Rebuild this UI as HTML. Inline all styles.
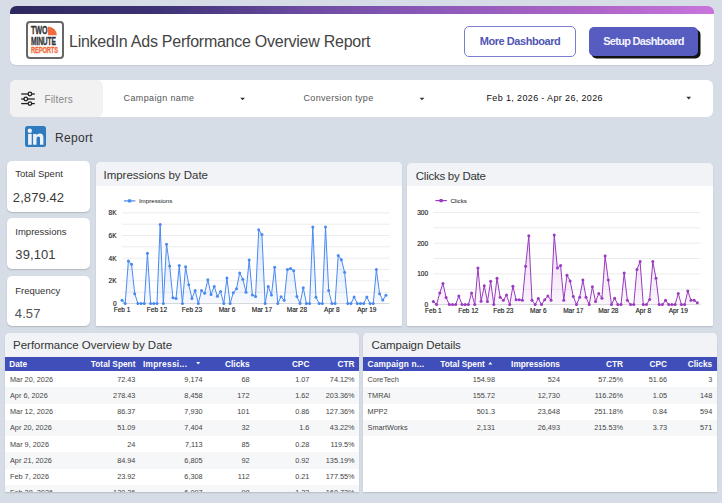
<!DOCTYPE html>
<html><head><meta charset="utf-8">
<style>
*{margin:0;padding:0;box-sizing:border-box}
html,body{width:722px;height:503px;overflow:hidden;background:#d6dde6;font-family:"Liberation Sans",sans-serif;position:relative}
.abs{position:absolute}
.card{position:absolute;background:#fff;border-radius:6px}
.hdr{left:10px;top:6px;width:703.5px;height:59px;overflow:hidden;box-shadow:0 1px 1px rgba(0,0,0,0.08)}
.hdr .bar{position:absolute;left:0;top:0;width:100%;height:7.5px;background:linear-gradient(90deg,#2d295f 0%,#3b3173 20%,#6a4a9f 41%,#8a58b8 59%,#b066c8 84%,#c875db 100%)}
.title{position:absolute;left:69px;top:32px;font-size:16px;color:#444;letter-spacing:-0.25px;white-space:nowrap;line-height:20px}
.btn1{position:absolute;left:464px;top:26px;width:112px;height:30.5px;border:1px solid #7a7fd0;border-radius:5px;background:#fff;color:#4f55b5;font-weight:bold;font-size:11px;text-align:center;line-height:28.5px;letter-spacing:-0.45px}
.btn2{position:absolute;left:589px;top:26.5px;width:109px;height:29.5px;border-radius:5px;background:#575cc0;color:#f4f4ff;font-weight:bold;font-size:11px;text-align:center;line-height:29.5px;box-shadow:2.5px 2.5px 0 #111;letter-spacing:-0.7px}
.filt{left:10px;top:80px;width:703px;height:37px;overflow:hidden}
.filt .fs{position:absolute;left:0;top:0;width:92.6px;height:37px;background:#f2f2f2;border-radius:6px 6px 6px 6px}
.ft{position:absolute;font-size:10px;color:#555;white-space:nowrap;line-height:12px}
.dd{position:absolute;width:0;height:0;border-left:2.5px solid transparent;border-right:2.5px solid transparent;border-top:3px solid #333}
.sc{position:absolute;left:7.3px;width:82.5px;height:51px;background:#fff;border-radius:5px;box-shadow:0 1px 1.5px rgba(0,0,0,0.18)}
.sc .l{position:absolute;left:8px;top:6px;font-size:9.5px;color:#333;white-space:nowrap;line-height:12px}
.sc .v{position:absolute;left:5.5px;top:28px;font-size:13px;color:#3a3a3a;white-space:nowrap;line-height:16px;letter-spacing:0.1px}
.panel{position:absolute;background:#fff;border-radius:5px;overflow:hidden;box-shadow:0 1px 1.5px rgba(0,0,0,0.15)}
.panel .ph{position:absolute;left:0;top:0;width:100%;height:24px;background:#f1f3f6}
.panel .pt{position:absolute;left:7.5px;top:6px;font-size:11.5px;color:#333;white-space:nowrap;line-height:14px;letter-spacing:-0.1px}
svg{position:absolute;left:0;top:0}
.ax{font-family:"Liberation Sans",sans-serif;font-size:6.5px;fill:#1a1a1a;stroke:#1a1a1a;stroke-width:0.15px}
.lg{font-family:"Liberation Sans",sans-serif;font-size:6.2px;fill:#111}
.thead{position:absolute;background:#3f4eb8}
.th{position:absolute;color:#fff;font-weight:bold;font-size:8.3px;white-space:nowrap}
.th.r{text-align:right}
.arr{font-size:6px;font-weight:normal}
.tr{position:absolute}
.td{position:absolute;color:#444;font-size:7.3px;white-space:nowrap;margin-top:0.4px}
.td.r{text-align:right}
</style></head><body>

<div class="card hdr"><div class="bar"></div></div>
<!-- logo -->
<div class="abs" style="left:25.7px;top:21.3px;width:38px;height:37.5px;border:2px solid #666;border-radius:4px;background:#fff"></div>
<div class="abs" style="left:30.8px;top:24.6px;font-weight:bold;font-size:11.4px;line-height:11px;color:#333;-webkit-text-stroke:0.35px #333;transform:scaleX(0.63);transform-origin:0 0;letter-spacing:-0.2px">TWO</div>
<svg class="abs" width="722" height="503" style="pointer-events:none">
<path d="M47.8,35.2 L47.8,26.5 A9,8.7 0 0 1 56.8,35.2 Z" fill="#f26b3a"/>
</svg>
<div class="abs" style="left:30.8px;top:35.8px;font-weight:bold;font-size:11.4px;line-height:11px;color:#333;-webkit-text-stroke:0.35px #333;transform:scaleX(0.585);transform-origin:0 0;letter-spacing:-0.2px">MINUTE</div>
<div class="abs" style="left:30.8px;top:45.8px;font-weight:bold;font-size:9px;line-height:9px;color:#f26b3a;-webkit-text-stroke:0.35px #f26b3a;transform:scaleX(0.64);transform-origin:0 0;letter-spacing:-0.2px">REPORTS</div>

<div class="title">LinkedIn Ads Performance Overview Report</div>
<div class="btn1">More Dashboard</div>
<div class="btn2">Setup Dashboard</div>

<div class="card filt"><div class="fs"></div></div>
<svg class="abs" width="722" height="503">
<g stroke="#222" stroke-width="1.3" fill="#f2f2f2">
<line x1="21.2" y1="94" x2="34.8" y2="94"/>
<line x1="21.2" y1="99" x2="34.8" y2="99"/>
<line x1="21.2" y1="103.6" x2="34.8" y2="103.6"/>
<circle cx="29.9" cy="94" r="1.8"/>
<circle cx="25.8" cy="99" r="1.8"/>
<circle cx="29.9" cy="103.6" r="1.8"/>
</g>
</svg>
<div class="ft" style="left:44.4px;top:94px;color:#888;letter-spacing:0.2px">Filters</div>
<div class="ft" style="left:123.5px;top:91.5px;font-size:9px;letter-spacing:0.38px">Campaign name</div>
<svg class="abs" width="722" height="503"><path d="M240.2,97.7 L245,97.7 L242.6,100.3 Z M419.6,97.8 L424.4,97.8 L422,100.3 Z M686.3,96.8 L691.1,96.8 L688.7,99.4 Z" fill="#333"/></svg>
<div class="ft" style="left:303.5px;top:91.5px;font-size:9px;letter-spacing:0.33px">Conversion type</div>

<div class="ft" style="left:486.5px;top:91.5px;font-size:9px;color:#111;letter-spacing:0.36px">Feb 1, 2026 - Apr 26, 2026</div>


<!-- linkedin -->
<div class="abs" style="left:25px;top:126px;width:21px;height:21px;background:#2f7bbf;border-radius:2.5px"></div>
<svg class="abs" width="722" height="503"><g fill="#eef1f5"><circle cx="29.8" cy="130.8" r="2.2"/><rect x="28.1" y="133.9" width="3.6" height="10.9"/><path d="M33.1,133.9 h3.4 v1.5 c0.7,-1.1 1.9,-1.8 3.4,-1.8 c2.4,0 3.5,1.6 3.5,4.1 v7.1 h-3.4 v-6.4 c0,-1.2 -0.5,-1.9 -1.5,-1.9 c-1.2,0 -2,0.8 -2,2.2 v6.1 h-3.4 z"/></g></svg>
<div class="abs" style="left:55px;top:131px;font-size:12px;color:#333;line-height:14px;letter-spacing:0.3px">Report</div>

<!-- scorecards -->
<div class="sc" style="top:161px"><div class="l" style="top:7px">Total Spent</div><div class="v" style="top:29px">2,879.42</div></div>
<div class="sc" style="top:218px"><div class="l" style="top:8px">Impressions</div><div class="v" style="left:8px;top:29px">39,101</div></div>
<div class="sc" style="top:275.5px;height:50.7px"><div class="l" style="top:9px">Frequency</div><div class="v" style="left:7.5px;top:30.3px;color:#555">4.57</div></div>

<!-- chart panels -->
<div class="panel" style="left:96px;top:162px;width:306.2px;height:163.5px;border-radius:5px 5px 1px 1px"><div class="ph"></div><div class="pt" style="letter-spacing:-0.02px">Impressions by Date</div></div>
<div class="panel" style="left:407px;top:163px;width:306px;height:162.5px;border-radius:5px 5px 1px 1px"><div class="ph" style="height:23px"></div><div class="pt" style="left:8.8px;top:6px;letter-spacing:-0.26px">Clicks by Date</div></div>
<svg class="abs" width="722" height="503">
<line x1="122.2" y1="303.50" x2="389.6" y2="303.50" stroke="#d9d9d9" stroke-width="1"/>
<line x1="122.2" y1="292.17" x2="389.6" y2="292.17" stroke="#ececec" stroke-width="1"/>
<line x1="122.2" y1="280.84" x2="389.6" y2="280.84" stroke="#ececec" stroke-width="1"/>
<line x1="122.2" y1="269.51" x2="389.6" y2="269.51" stroke="#ececec" stroke-width="1"/>
<line x1="122.2" y1="258.18" x2="389.6" y2="258.18" stroke="#ececec" stroke-width="1"/>
<line x1="122.2" y1="246.85" x2="389.6" y2="246.85" stroke="#ececec" stroke-width="1"/>
<line x1="122.2" y1="235.52" x2="389.6" y2="235.52" stroke="#ececec" stroke-width="1"/>
<line x1="122.2" y1="224.19" x2="389.6" y2="224.19" stroke="#ececec" stroke-width="1"/>
<line x1="122.2" y1="212.86" x2="389.6" y2="212.86" stroke="#ececec" stroke-width="1"/>
<text x="116.5" y="305.90" text-anchor="end" class="ax">0</text>
<text x="116.5" y="283.24" text-anchor="end" class="ax">2K</text>
<text x="116.5" y="260.58" text-anchor="end" class="ax">4K</text>
<text x="116.5" y="237.92" text-anchor="end" class="ax">6K</text>
<text x="116.5" y="215.26" text-anchor="end" class="ax">8K</text>
<defs><linearGradient id="g4a8af0" gradientUnits="userSpaceOnUse" x1="0" y1="212" x2="0" y2="303.5"><stop offset="0" stop-color="#4a8af0" stop-opacity="0.22"/><stop offset="1" stop-color="#4a8af0" stop-opacity="0.05"/></linearGradient></defs>
<path d="M122.00,300.33 L125.18,303.50 L128.36,261.01 L131.54,264.18 L134.72,293.64 L137.90,303.50 L141.08,303.50 L144.26,303.50 L147.44,253.19 L150.62,303.50 L153.80,303.50 L156.98,303.50 L160.16,224.53 L163.34,303.50 L166.52,244.24 L169.70,266.11 L172.88,297.83 L176.06,298.40 L179.24,265.54 L182.42,303.50 L185.60,266.68 L188.78,284.81 L191.96,298.40 L195.14,290.47 L198.32,303.50 L201.50,290.47 L204.68,293.30 L207.86,279.71 L211.04,294.44 L214.22,286.50 L217.40,296.14 L220.58,291.60 L223.76,303.50 L226.94,278.01 L230.12,303.50 L233.30,292.74 L236.48,288.77 L239.66,272.91 L242.84,279.14 L246.02,292.17 L249.20,259.88 L252.38,295.00 L255.56,296.48 L258.74,229.86 L261.92,234.39 L265.10,303.50 L268.28,286.50 L271.46,295.00 L274.64,267.24 L277.82,303.50 L281.00,296.70 L284.18,300.33 L287.36,269.51 L290.54,268.38 L293.72,270.64 L296.90,296.48 L300.08,303.50 L303.26,287.64 L306.44,303.50 L309.62,303.50 L312.80,227.02 L315.98,297.27 L319.16,303.50 L322.34,303.50 L325.52,227.02 L328.70,290.47 L331.88,303.50 L335.06,303.50 L338.24,255.46 L341.42,259.65 L344.60,272.23 L347.78,303.50 L350.96,303.50 L354.14,296.93 L357.32,303.50 L360.50,303.50 L363.68,303.50 L366.86,296.93 L370.04,303.50 L373.22,303.50 L376.40,269.51 L379.58,293.76 L382.76,300.10 L385.94,295.34 L385.94,303.5 L122.00,303.5 Z" fill="url(#g4a8af0)"/>
<path d="M122.00,300.33 L125.18,303.50 L128.36,261.01 L131.54,264.18 L134.72,293.64 L137.90,303.50 L141.08,303.50 L144.26,303.50 L147.44,253.19 L150.62,303.50 L153.80,303.50 L156.98,303.50 L160.16,224.53 L163.34,303.50 L166.52,244.24 L169.70,266.11 L172.88,297.83 L176.06,298.40 L179.24,265.54 L182.42,303.50 L185.60,266.68 L188.78,284.81 L191.96,298.40 L195.14,290.47 L198.32,303.50 L201.50,290.47 L204.68,293.30 L207.86,279.71 L211.04,294.44 L214.22,286.50 L217.40,296.14 L220.58,291.60 L223.76,303.50 L226.94,278.01 L230.12,303.50 L233.30,292.74 L236.48,288.77 L239.66,272.91 L242.84,279.14 L246.02,292.17 L249.20,259.88 L252.38,295.00 L255.56,296.48 L258.74,229.86 L261.92,234.39 L265.10,303.50 L268.28,286.50 L271.46,295.00 L274.64,267.24 L277.82,303.50 L281.00,296.70 L284.18,300.33 L287.36,269.51 L290.54,268.38 L293.72,270.64 L296.90,296.48 L300.08,303.50 L303.26,287.64 L306.44,303.50 L309.62,303.50 L312.80,227.02 L315.98,297.27 L319.16,303.50 L322.34,303.50 L325.52,227.02 L328.70,290.47 L331.88,303.50 L335.06,303.50 L338.24,255.46 L341.42,259.65 L344.60,272.23 L347.78,303.50 L350.96,303.50 L354.14,296.93 L357.32,303.50 L360.50,303.50 L363.68,303.50 L366.86,296.93 L370.04,303.50 L373.22,303.50 L376.40,269.51 L379.58,293.76 L382.76,300.10 L385.94,295.34" fill="none" stroke="#4a8af0" stroke-width="1.0" stroke-linejoin="round"/>
<circle cx="122.00" cy="300.33" r="1.5" fill="#4a8af0"/>
<circle cx="125.18" cy="303.50" r="1.5" fill="#4a8af0"/>
<circle cx="128.36" cy="261.01" r="1.5" fill="#4a8af0"/>
<circle cx="131.54" cy="264.18" r="1.5" fill="#4a8af0"/>
<circle cx="134.72" cy="293.64" r="1.5" fill="#4a8af0"/>
<circle cx="137.90" cy="303.50" r="1.5" fill="#4a8af0"/>
<circle cx="141.08" cy="303.50" r="1.5" fill="#4a8af0"/>
<circle cx="144.26" cy="303.50" r="1.5" fill="#4a8af0"/>
<circle cx="147.44" cy="253.19" r="1.5" fill="#4a8af0"/>
<circle cx="150.62" cy="303.50" r="1.5" fill="#4a8af0"/>
<circle cx="153.80" cy="303.50" r="1.5" fill="#4a8af0"/>
<circle cx="156.98" cy="303.50" r="1.5" fill="#4a8af0"/>
<circle cx="160.16" cy="224.53" r="1.5" fill="#4a8af0"/>
<circle cx="163.34" cy="303.50" r="1.5" fill="#4a8af0"/>
<circle cx="166.52" cy="244.24" r="1.5" fill="#4a8af0"/>
<circle cx="169.70" cy="266.11" r="1.5" fill="#4a8af0"/>
<circle cx="172.88" cy="297.83" r="1.5" fill="#4a8af0"/>
<circle cx="176.06" cy="298.40" r="1.5" fill="#4a8af0"/>
<circle cx="179.24" cy="265.54" r="1.5" fill="#4a8af0"/>
<circle cx="182.42" cy="303.50" r="1.5" fill="#4a8af0"/>
<circle cx="185.60" cy="266.68" r="1.5" fill="#4a8af0"/>
<circle cx="188.78" cy="284.81" r="1.5" fill="#4a8af0"/>
<circle cx="191.96" cy="298.40" r="1.5" fill="#4a8af0"/>
<circle cx="195.14" cy="290.47" r="1.5" fill="#4a8af0"/>
<circle cx="198.32" cy="303.50" r="1.5" fill="#4a8af0"/>
<circle cx="201.50" cy="290.47" r="1.5" fill="#4a8af0"/>
<circle cx="204.68" cy="293.30" r="1.5" fill="#4a8af0"/>
<circle cx="207.86" cy="279.71" r="1.5" fill="#4a8af0"/>
<circle cx="211.04" cy="294.44" r="1.5" fill="#4a8af0"/>
<circle cx="214.22" cy="286.50" r="1.5" fill="#4a8af0"/>
<circle cx="217.40" cy="296.14" r="1.5" fill="#4a8af0"/>
<circle cx="220.58" cy="291.60" r="1.5" fill="#4a8af0"/>
<circle cx="223.76" cy="303.50" r="1.5" fill="#4a8af0"/>
<circle cx="226.94" cy="278.01" r="1.5" fill="#4a8af0"/>
<circle cx="230.12" cy="303.50" r="1.5" fill="#4a8af0"/>
<circle cx="233.30" cy="292.74" r="1.5" fill="#4a8af0"/>
<circle cx="236.48" cy="288.77" r="1.5" fill="#4a8af0"/>
<circle cx="239.66" cy="272.91" r="1.5" fill="#4a8af0"/>
<circle cx="242.84" cy="279.14" r="1.5" fill="#4a8af0"/>
<circle cx="246.02" cy="292.17" r="1.5" fill="#4a8af0"/>
<circle cx="249.20" cy="259.88" r="1.5" fill="#4a8af0"/>
<circle cx="252.38" cy="295.00" r="1.5" fill="#4a8af0"/>
<circle cx="255.56" cy="296.48" r="1.5" fill="#4a8af0"/>
<circle cx="258.74" cy="229.86" r="1.5" fill="#4a8af0"/>
<circle cx="261.92" cy="234.39" r="1.5" fill="#4a8af0"/>
<circle cx="265.10" cy="303.50" r="1.5" fill="#4a8af0"/>
<circle cx="268.28" cy="286.50" r="1.5" fill="#4a8af0"/>
<circle cx="271.46" cy="295.00" r="1.5" fill="#4a8af0"/>
<circle cx="274.64" cy="267.24" r="1.5" fill="#4a8af0"/>
<circle cx="277.82" cy="303.50" r="1.5" fill="#4a8af0"/>
<circle cx="281.00" cy="296.70" r="1.5" fill="#4a8af0"/>
<circle cx="284.18" cy="300.33" r="1.5" fill="#4a8af0"/>
<circle cx="287.36" cy="269.51" r="1.5" fill="#4a8af0"/>
<circle cx="290.54" cy="268.38" r="1.5" fill="#4a8af0"/>
<circle cx="293.72" cy="270.64" r="1.5" fill="#4a8af0"/>
<circle cx="296.90" cy="296.48" r="1.5" fill="#4a8af0"/>
<circle cx="300.08" cy="303.50" r="1.5" fill="#4a8af0"/>
<circle cx="303.26" cy="287.64" r="1.5" fill="#4a8af0"/>
<circle cx="306.44" cy="303.50" r="1.5" fill="#4a8af0"/>
<circle cx="309.62" cy="303.50" r="1.5" fill="#4a8af0"/>
<circle cx="312.80" cy="227.02" r="1.5" fill="#4a8af0"/>
<circle cx="315.98" cy="297.27" r="1.5" fill="#4a8af0"/>
<circle cx="319.16" cy="303.50" r="1.5" fill="#4a8af0"/>
<circle cx="322.34" cy="303.50" r="1.5" fill="#4a8af0"/>
<circle cx="325.52" cy="227.02" r="1.5" fill="#4a8af0"/>
<circle cx="328.70" cy="290.47" r="1.5" fill="#4a8af0"/>
<circle cx="331.88" cy="303.50" r="1.5" fill="#4a8af0"/>
<circle cx="335.06" cy="303.50" r="1.5" fill="#4a8af0"/>
<circle cx="338.24" cy="255.46" r="1.5" fill="#4a8af0"/>
<circle cx="341.42" cy="259.65" r="1.5" fill="#4a8af0"/>
<circle cx="344.60" cy="272.23" r="1.5" fill="#4a8af0"/>
<circle cx="347.78" cy="303.50" r="1.5" fill="#4a8af0"/>
<circle cx="350.96" cy="303.50" r="1.5" fill="#4a8af0"/>
<circle cx="354.14" cy="296.93" r="1.5" fill="#4a8af0"/>
<circle cx="357.32" cy="303.50" r="1.5" fill="#4a8af0"/>
<circle cx="360.50" cy="303.50" r="1.5" fill="#4a8af0"/>
<circle cx="363.68" cy="303.50" r="1.5" fill="#4a8af0"/>
<circle cx="366.86" cy="296.93" r="1.5" fill="#4a8af0"/>
<circle cx="370.04" cy="303.50" r="1.5" fill="#4a8af0"/>
<circle cx="373.22" cy="303.50" r="1.5" fill="#4a8af0"/>
<circle cx="376.40" cy="269.51" r="1.5" fill="#4a8af0"/>
<circle cx="379.58" cy="293.76" r="1.5" fill="#4a8af0"/>
<circle cx="382.76" cy="300.10" r="1.5" fill="#4a8af0"/>
<circle cx="385.94" cy="295.34" r="1.5" fill="#4a8af0"/>
<text x="122.00" y="312.3" text-anchor="middle" class="ax">Feb 1</text>
<text x="156.98" y="312.3" text-anchor="middle" class="ax">Feb 12</text>
<text x="191.96" y="312.3" text-anchor="middle" class="ax">Feb 23</text>
<text x="226.94" y="312.3" text-anchor="middle" class="ax">Mar 6</text>
<text x="261.92" y="312.3" text-anchor="middle" class="ax">Mar 17</text>
<text x="296.90" y="312.3" text-anchor="middle" class="ax">Mar 28</text>
<text x="331.88" y="312.3" text-anchor="middle" class="ax">Apr 8</text>
<text x="366.86" y="312.3" text-anchor="middle" class="ax">Apr 19</text>
<line x1="123.9" y1="200.9" x2="135.4" y2="200.9" stroke="#4a8af0" stroke-width="1.2"/>
<rect x="127.9" y="199.20000000000002" width="3.4" height="3.4" rx="0.8" fill="#4a8af0"/>
<text x="138.9" y="203.20000000000002" class="lg">Impressions</text>
<line x1="433.6" y1="304.60" x2="700.6" y2="304.60" stroke="#d9d9d9" stroke-width="1"/>
<line x1="433.6" y1="289.25" x2="700.6" y2="289.25" stroke="#ececec" stroke-width="1"/>
<line x1="433.6" y1="273.90" x2="700.6" y2="273.90" stroke="#ececec" stroke-width="1"/>
<line x1="433.6" y1="258.55" x2="700.6" y2="258.55" stroke="#ececec" stroke-width="1"/>
<line x1="433.6" y1="243.20" x2="700.6" y2="243.20" stroke="#ececec" stroke-width="1"/>
<line x1="433.6" y1="227.85" x2="700.6" y2="227.85" stroke="#ececec" stroke-width="1"/>
<line x1="433.6" y1="212.50" x2="700.6" y2="212.50" stroke="#ececec" stroke-width="1"/>
<text x="428.1" y="307.00" text-anchor="end" class="ax">0</text>
<text x="428.1" y="276.30" text-anchor="end" class="ax">100</text>
<text x="428.1" y="245.60" text-anchor="end" class="ax">200</text>
<text x="428.1" y="214.90" text-anchor="end" class="ax">300</text>
<defs><linearGradient id="g9a3abf" gradientUnits="userSpaceOnUse" x1="0" y1="212" x2="0" y2="304.6"><stop offset="0" stop-color="#9a3abf" stop-opacity="0.22"/><stop offset="1" stop-color="#9a3abf" stop-opacity="0.05"/></linearGradient></defs>
<path d="M433.40,301.53 L436.58,304.60 L439.76,292.93 L442.94,283.42 L446.12,297.54 L449.30,304.60 L452.48,304.60 L455.66,304.60 L458.84,296.00 L462.02,304.60 L465.20,304.60 L468.38,304.60 L471.56,292.93 L474.74,304.60 L477.92,268.07 L481.10,301.22 L484.28,285.87 L487.46,301.53 L490.64,281.27 L493.82,304.60 L497.00,278.20 L500.18,297.23 L503.36,300.30 L506.54,295.08 L509.72,304.60 L512.90,286.18 L516.08,299.69 L519.26,299.69 L522.44,300.30 L525.62,266.23 L528.80,235.83 L531.98,300.30 L535.16,304.60 L538.34,298.46 L541.52,304.60 L544.70,299.69 L547.88,296.00 L551.06,300.30 L554.24,234.91 L557.42,268.07 L560.60,265.61 L563.78,300.30 L566.96,275.13 L570.14,280.96 L573.32,296.62 L576.50,304.60 L579.68,297.23 L582.86,280.04 L586.04,297.23 L589.22,304.60 L592.40,286.79 L595.58,301.53 L598.76,293.55 L601.94,298.15 L605.12,256.09 L608.30,280.04 L611.48,304.60 L614.66,298.15 L617.84,304.60 L621.02,304.60 L624.20,272.98 L627.38,300.30 L630.56,304.60 L633.74,304.60 L636.92,269.60 L640.10,261.62 L643.28,304.60 L646.46,304.60 L649.64,299.38 L652.82,261.62 L656.00,278.20 L659.18,304.60 L662.36,304.60 L665.54,300.30 L668.72,304.60 L671.90,304.60 L675.08,304.60 L678.26,293.55 L681.44,304.60 L684.62,304.60 L687.80,291.09 L690.98,300.30 L694.16,300.30 L697.34,302.76 L697.34,304.6 L433.40,304.6 Z" fill="url(#g9a3abf)"/>
<path d="M433.40,301.53 L436.58,304.60 L439.76,292.93 L442.94,283.42 L446.12,297.54 L449.30,304.60 L452.48,304.60 L455.66,304.60 L458.84,296.00 L462.02,304.60 L465.20,304.60 L468.38,304.60 L471.56,292.93 L474.74,304.60 L477.92,268.07 L481.10,301.22 L484.28,285.87 L487.46,301.53 L490.64,281.27 L493.82,304.60 L497.00,278.20 L500.18,297.23 L503.36,300.30 L506.54,295.08 L509.72,304.60 L512.90,286.18 L516.08,299.69 L519.26,299.69 L522.44,300.30 L525.62,266.23 L528.80,235.83 L531.98,300.30 L535.16,304.60 L538.34,298.46 L541.52,304.60 L544.70,299.69 L547.88,296.00 L551.06,300.30 L554.24,234.91 L557.42,268.07 L560.60,265.61 L563.78,300.30 L566.96,275.13 L570.14,280.96 L573.32,296.62 L576.50,304.60 L579.68,297.23 L582.86,280.04 L586.04,297.23 L589.22,304.60 L592.40,286.79 L595.58,301.53 L598.76,293.55 L601.94,298.15 L605.12,256.09 L608.30,280.04 L611.48,304.60 L614.66,298.15 L617.84,304.60 L621.02,304.60 L624.20,272.98 L627.38,300.30 L630.56,304.60 L633.74,304.60 L636.92,269.60 L640.10,261.62 L643.28,304.60 L646.46,304.60 L649.64,299.38 L652.82,261.62 L656.00,278.20 L659.18,304.60 L662.36,304.60 L665.54,300.30 L668.72,304.60 L671.90,304.60 L675.08,304.60 L678.26,293.55 L681.44,304.60 L684.62,304.60 L687.80,291.09 L690.98,300.30 L694.16,300.30 L697.34,302.76" fill="none" stroke="#9a3abf" stroke-width="1.0" stroke-linejoin="round"/>
<circle cx="433.40" cy="301.53" r="1.5" fill="#9a3abf"/>
<circle cx="436.58" cy="304.60" r="1.5" fill="#9a3abf"/>
<circle cx="439.76" cy="292.93" r="1.5" fill="#9a3abf"/>
<circle cx="442.94" cy="283.42" r="1.5" fill="#9a3abf"/>
<circle cx="446.12" cy="297.54" r="1.5" fill="#9a3abf"/>
<circle cx="449.30" cy="304.60" r="1.5" fill="#9a3abf"/>
<circle cx="452.48" cy="304.60" r="1.5" fill="#9a3abf"/>
<circle cx="455.66" cy="304.60" r="1.5" fill="#9a3abf"/>
<circle cx="458.84" cy="296.00" r="1.5" fill="#9a3abf"/>
<circle cx="462.02" cy="304.60" r="1.5" fill="#9a3abf"/>
<circle cx="465.20" cy="304.60" r="1.5" fill="#9a3abf"/>
<circle cx="468.38" cy="304.60" r="1.5" fill="#9a3abf"/>
<circle cx="471.56" cy="292.93" r="1.5" fill="#9a3abf"/>
<circle cx="474.74" cy="304.60" r="1.5" fill="#9a3abf"/>
<circle cx="477.92" cy="268.07" r="1.5" fill="#9a3abf"/>
<circle cx="481.10" cy="301.22" r="1.5" fill="#9a3abf"/>
<circle cx="484.28" cy="285.87" r="1.5" fill="#9a3abf"/>
<circle cx="487.46" cy="301.53" r="1.5" fill="#9a3abf"/>
<circle cx="490.64" cy="281.27" r="1.5" fill="#9a3abf"/>
<circle cx="493.82" cy="304.60" r="1.5" fill="#9a3abf"/>
<circle cx="497.00" cy="278.20" r="1.5" fill="#9a3abf"/>
<circle cx="500.18" cy="297.23" r="1.5" fill="#9a3abf"/>
<circle cx="503.36" cy="300.30" r="1.5" fill="#9a3abf"/>
<circle cx="506.54" cy="295.08" r="1.5" fill="#9a3abf"/>
<circle cx="509.72" cy="304.60" r="1.5" fill="#9a3abf"/>
<circle cx="512.90" cy="286.18" r="1.5" fill="#9a3abf"/>
<circle cx="516.08" cy="299.69" r="1.5" fill="#9a3abf"/>
<circle cx="519.26" cy="299.69" r="1.5" fill="#9a3abf"/>
<circle cx="522.44" cy="300.30" r="1.5" fill="#9a3abf"/>
<circle cx="525.62" cy="266.23" r="1.5" fill="#9a3abf"/>
<circle cx="528.80" cy="235.83" r="1.5" fill="#9a3abf"/>
<circle cx="531.98" cy="300.30" r="1.5" fill="#9a3abf"/>
<circle cx="535.16" cy="304.60" r="1.5" fill="#9a3abf"/>
<circle cx="538.34" cy="298.46" r="1.5" fill="#9a3abf"/>
<circle cx="541.52" cy="304.60" r="1.5" fill="#9a3abf"/>
<circle cx="544.70" cy="299.69" r="1.5" fill="#9a3abf"/>
<circle cx="547.88" cy="296.00" r="1.5" fill="#9a3abf"/>
<circle cx="551.06" cy="300.30" r="1.5" fill="#9a3abf"/>
<circle cx="554.24" cy="234.91" r="1.5" fill="#9a3abf"/>
<circle cx="557.42" cy="268.07" r="1.5" fill="#9a3abf"/>
<circle cx="560.60" cy="265.61" r="1.5" fill="#9a3abf"/>
<circle cx="563.78" cy="300.30" r="1.5" fill="#9a3abf"/>
<circle cx="566.96" cy="275.13" r="1.5" fill="#9a3abf"/>
<circle cx="570.14" cy="280.96" r="1.5" fill="#9a3abf"/>
<circle cx="573.32" cy="296.62" r="1.5" fill="#9a3abf"/>
<circle cx="576.50" cy="304.60" r="1.5" fill="#9a3abf"/>
<circle cx="579.68" cy="297.23" r="1.5" fill="#9a3abf"/>
<circle cx="582.86" cy="280.04" r="1.5" fill="#9a3abf"/>
<circle cx="586.04" cy="297.23" r="1.5" fill="#9a3abf"/>
<circle cx="589.22" cy="304.60" r="1.5" fill="#9a3abf"/>
<circle cx="592.40" cy="286.79" r="1.5" fill="#9a3abf"/>
<circle cx="595.58" cy="301.53" r="1.5" fill="#9a3abf"/>
<circle cx="598.76" cy="293.55" r="1.5" fill="#9a3abf"/>
<circle cx="601.94" cy="298.15" r="1.5" fill="#9a3abf"/>
<circle cx="605.12" cy="256.09" r="1.5" fill="#9a3abf"/>
<circle cx="608.30" cy="280.04" r="1.5" fill="#9a3abf"/>
<circle cx="611.48" cy="304.60" r="1.5" fill="#9a3abf"/>
<circle cx="614.66" cy="298.15" r="1.5" fill="#9a3abf"/>
<circle cx="617.84" cy="304.60" r="1.5" fill="#9a3abf"/>
<circle cx="621.02" cy="304.60" r="1.5" fill="#9a3abf"/>
<circle cx="624.20" cy="272.98" r="1.5" fill="#9a3abf"/>
<circle cx="627.38" cy="300.30" r="1.5" fill="#9a3abf"/>
<circle cx="630.56" cy="304.60" r="1.5" fill="#9a3abf"/>
<circle cx="633.74" cy="304.60" r="1.5" fill="#9a3abf"/>
<circle cx="636.92" cy="269.60" r="1.5" fill="#9a3abf"/>
<circle cx="640.10" cy="261.62" r="1.5" fill="#9a3abf"/>
<circle cx="643.28" cy="304.60" r="1.5" fill="#9a3abf"/>
<circle cx="646.46" cy="304.60" r="1.5" fill="#9a3abf"/>
<circle cx="649.64" cy="299.38" r="1.5" fill="#9a3abf"/>
<circle cx="652.82" cy="261.62" r="1.5" fill="#9a3abf"/>
<circle cx="656.00" cy="278.20" r="1.5" fill="#9a3abf"/>
<circle cx="659.18" cy="304.60" r="1.5" fill="#9a3abf"/>
<circle cx="662.36" cy="304.60" r="1.5" fill="#9a3abf"/>
<circle cx="665.54" cy="300.30" r="1.5" fill="#9a3abf"/>
<circle cx="668.72" cy="304.60" r="1.5" fill="#9a3abf"/>
<circle cx="671.90" cy="304.60" r="1.5" fill="#9a3abf"/>
<circle cx="675.08" cy="304.60" r="1.5" fill="#9a3abf"/>
<circle cx="678.26" cy="293.55" r="1.5" fill="#9a3abf"/>
<circle cx="681.44" cy="304.60" r="1.5" fill="#9a3abf"/>
<circle cx="684.62" cy="304.60" r="1.5" fill="#9a3abf"/>
<circle cx="687.80" cy="291.09" r="1.5" fill="#9a3abf"/>
<circle cx="690.98" cy="300.30" r="1.5" fill="#9a3abf"/>
<circle cx="694.16" cy="300.30" r="1.5" fill="#9a3abf"/>
<circle cx="697.34" cy="302.76" r="1.5" fill="#9a3abf"/>
<text x="433.40" y="313.0" text-anchor="middle" class="ax">Feb 1</text>
<text x="468.38" y="313.0" text-anchor="middle" class="ax">Feb 12</text>
<text x="503.36" y="313.0" text-anchor="middle" class="ax">Feb 23</text>
<text x="538.34" y="313.0" text-anchor="middle" class="ax">Mar 6</text>
<text x="573.32" y="313.0" text-anchor="middle" class="ax">Mar 17</text>
<text x="608.30" y="313.0" text-anchor="middle" class="ax">Mar 28</text>
<text x="643.28" y="313.0" text-anchor="middle" class="ax">Apr 8</text>
<text x="678.26" y="313.0" text-anchor="middle" class="ax">Apr 19</text>
<line x1="435.4" y1="200.6" x2="446.9" y2="200.6" stroke="#9a3abf" stroke-width="1.2"/>
<rect x="439.4" y="198.9" width="3.4" height="3.4" rx="0.8" fill="#9a3abf"/>
<text x="450.4" y="202.9" class="lg">Clicks</text>
</svg>

<!-- tables -->
<div class="panel" style="left:5.1px;top:333px;width:353.9px;height:159px;border-radius:5px 5px 0 0"><div class="ph"></div><div class="pt" style="left:8px;top:5.3px;letter-spacing:-0.03px">Performance Overview by Date</div></div>
<div class="panel" style="left:363px;top:333px;width:354px;height:159.3px;border-radius:5px 5px 0 0"><div class="ph"></div><div class="pt" style="left:8.6px;top:5px">Campaign Details</div></div>
<div class="abs" style="left:5.1px;top:333px;width:353.9px;height:159px;overflow:hidden;border-radius:5px 5px 0 0">
<div class="abs" style="left:-5.1px;top:-333px;width:722px;height:503px">
<div class="thead" style="left:5.1px;top:356.5px;width:353.9px;height:14.7px"></div>
<div class="th" style="left:9.2px;top:356.5px;height:14.7px;line-height:14.7px">Date</div>
<div class="th r" style="right:586.6px;top:356.5px;height:14.7px;line-height:14.7px">Total Spent</div>
<div class="th r" style="right:535.0px;top:356.5px;height:14.7px;line-height:14.7px"><span style='letter-spacing:0.3px'>Impressi..</span>.</div>
<div class="th r" style="right:472.5px;top:356.5px;height:14.7px;line-height:14.7px">Clicks</div>
<div class="th r" style="right:412.6px;top:356.5px;height:14.7px;line-height:14.7px">CPC</div>
<div class="th r" style="right:367.4px;top:356.5px;height:14.7px;line-height:14.7px">CTR</div>
<div class="tr" style="left:5.1px;top:371.20px;width:353.9px;height:16.23px;background:#ffffff"></div>
<div class="td" style="left:10px;top:371.20px;height:16.23px;line-height:16.23px">Mar 20, 2026</div>
<div class="td r" style="right:586.6px;top:371.20px;height:16.23px;line-height:16.23px">72.43</div>
<div class="td r" style="right:519.4px;top:371.20px;height:16.23px;line-height:16.23px">9,174</div>
<div class="td r" style="right:472.5px;top:371.20px;height:16.23px;line-height:16.23px">68</div>
<div class="td r" style="right:412.6px;top:371.20px;height:16.23px;line-height:16.23px">1.07</div>
<div class="td r" style="right:367.4px;top:371.20px;height:16.23px;line-height:16.23px">74.12%</div>
<div class="tr" style="left:5.1px;top:387.43px;width:353.9px;height:16.23px;background:#f6f7f9"></div>
<div class="td" style="left:10px;top:387.43px;height:16.23px;line-height:16.23px">Apr 6, 2026</div>
<div class="td r" style="right:586.6px;top:387.43px;height:16.23px;line-height:16.23px">278.43</div>
<div class="td r" style="right:519.4px;top:387.43px;height:16.23px;line-height:16.23px">8,458</div>
<div class="td r" style="right:472.5px;top:387.43px;height:16.23px;line-height:16.23px">172</div>
<div class="td r" style="right:412.6px;top:387.43px;height:16.23px;line-height:16.23px">1.62</div>
<div class="td r" style="right:367.4px;top:387.43px;height:16.23px;line-height:16.23px">203.36%</div>
<div class="tr" style="left:5.1px;top:403.66px;width:353.9px;height:16.23px;background:#ffffff"></div>
<div class="td" style="left:10px;top:403.66px;height:16.23px;line-height:16.23px">Mar 12, 2026</div>
<div class="td r" style="right:586.6px;top:403.66px;height:16.23px;line-height:16.23px">86.37</div>
<div class="td r" style="right:519.4px;top:403.66px;height:16.23px;line-height:16.23px">7,930</div>
<div class="td r" style="right:472.5px;top:403.66px;height:16.23px;line-height:16.23px">101</div>
<div class="td r" style="right:412.6px;top:403.66px;height:16.23px;line-height:16.23px">0.86</div>
<div class="td r" style="right:367.4px;top:403.66px;height:16.23px;line-height:16.23px">127.36%</div>
<div class="tr" style="left:5.1px;top:419.89px;width:353.9px;height:16.23px;background:#f6f7f9"></div>
<div class="td" style="left:10px;top:419.89px;height:16.23px;line-height:16.23px">Apr 20, 2026</div>
<div class="td r" style="right:586.6px;top:419.89px;height:16.23px;line-height:16.23px">51.09</div>
<div class="td r" style="right:519.4px;top:419.89px;height:16.23px;line-height:16.23px">7,404</div>
<div class="td r" style="right:472.5px;top:419.89px;height:16.23px;line-height:16.23px">32</div>
<div class="td r" style="right:412.6px;top:419.89px;height:16.23px;line-height:16.23px">1.6</div>
<div class="td r" style="right:367.4px;top:419.89px;height:16.23px;line-height:16.23px">43.22%</div>
<div class="tr" style="left:5.1px;top:436.12px;width:353.9px;height:16.23px;background:#ffffff"></div>
<div class="td" style="left:10px;top:436.12px;height:16.23px;line-height:16.23px">Mar 9, 2026</div>
<div class="td r" style="right:586.6px;top:436.12px;height:16.23px;line-height:16.23px">24</div>
<div class="td r" style="right:519.4px;top:436.12px;height:16.23px;line-height:16.23px">7,113</div>
<div class="td r" style="right:472.5px;top:436.12px;height:16.23px;line-height:16.23px">85</div>
<div class="td r" style="right:412.6px;top:436.12px;height:16.23px;line-height:16.23px">0.28</div>
<div class="td r" style="right:367.4px;top:436.12px;height:16.23px;line-height:16.23px">119.5%</div>
<div class="tr" style="left:5.1px;top:452.35px;width:353.9px;height:16.23px;background:#f6f7f9"></div>
<div class="td" style="left:10px;top:452.35px;height:16.23px;line-height:16.23px">Apr 21, 2026</div>
<div class="td r" style="right:586.6px;top:452.35px;height:16.23px;line-height:16.23px">84.94</div>
<div class="td r" style="right:519.4px;top:452.35px;height:16.23px;line-height:16.23px">6,805</div>
<div class="td r" style="right:472.5px;top:452.35px;height:16.23px;line-height:16.23px">92</div>
<div class="td r" style="right:412.6px;top:452.35px;height:16.23px;line-height:16.23px">0.92</div>
<div class="td r" style="right:367.4px;top:452.35px;height:16.23px;line-height:16.23px">135.19%</div>
<div class="tr" style="left:5.1px;top:468.58px;width:353.9px;height:16.23px;background:#ffffff"></div>
<div class="td" style="left:10px;top:468.58px;height:16.23px;line-height:16.23px">Feb 7, 2026</div>
<div class="td r" style="right:586.6px;top:468.58px;height:16.23px;line-height:16.23px">23.92</div>
<div class="td r" style="right:519.4px;top:468.58px;height:16.23px;line-height:16.23px">6,308</div>
<div class="td r" style="right:472.5px;top:468.58px;height:16.23px;line-height:16.23px">112</div>
<div class="td r" style="right:412.6px;top:468.58px;height:16.23px;line-height:16.23px">0.21</div>
<div class="td r" style="right:367.4px;top:468.58px;height:16.23px;line-height:16.23px">177.55%</div>
<div class="tr" style="left:5.1px;top:484.81px;width:353.9px;height:16.23px;background:#f6f7f9"></div>
<div class="td" style="left:10px;top:484.81px;height:16.23px;line-height:16.23px">Feb 28, 2026</div>
<div class="td r" style="right:586.6px;top:484.81px;height:16.23px;line-height:16.23px">120.26</div>
<div class="td r" style="right:519.4px;top:484.81px;height:16.23px;line-height:16.23px">6,097</div>
<div class="td r" style="right:472.5px;top:484.81px;height:16.23px;line-height:16.23px">98</div>
<div class="td r" style="right:412.6px;top:484.81px;height:16.23px;line-height:16.23px">1.23</div>
<div class="td r" style="right:367.4px;top:484.81px;height:16.23px;line-height:16.23px">160.73%</div>
</div></div>
<div class="abs" style="left:363px;top:333px;width:354px;height:159.3px;overflow:hidden;border-radius:5px 5px 0 0">
<div class="abs" style="left:-363px;top:-333px;width:722px;height:503px">
<div class="thead" style="left:363px;top:356.5px;width:354px;height:14.7px"></div>
<div class="th" style="left:367.6px;top:356.5px;height:14.7px;line-height:14.7px"><span style='letter-spacing:0.17px'>Campaign n...</span></div>
<div class="th r" style="right:237.2px;top:356.5px;height:14.7px;line-height:14.7px">Total Spent</div>
<div class="th r" style="right:162.0px;top:356.5px;height:14.7px;line-height:14.7px">Impressions</div>
<div class="th r" style="right:99.0px;top:356.5px;height:14.7px;line-height:14.7px">CTR</div>
<div class="th r" style="right:55.0px;top:356.5px;height:14.7px;line-height:14.7px">CPC</div>
<div class="th r" style="right:9.8px;top:356.5px;height:14.7px;line-height:14.7px">Clicks</div>
<div class="tr" style="left:363px;top:371.20px;width:354px;height:16.23px;background:#ffffff"></div>
<div class="td" style="left:367.6px;top:371.20px;height:16.23px;line-height:16.23px">CoreTech</div>
<div class="td r" style="right:227.0px;top:371.20px;height:16.23px;line-height:16.23px">154.98</div>
<div class="td r" style="right:162.0px;top:371.20px;height:16.23px;line-height:16.23px">524</div>
<div class="td r" style="right:99.0px;top:371.20px;height:16.23px;line-height:16.23px">57.25%</div>
<div class="td r" style="right:55.0px;top:371.20px;height:16.23px;line-height:16.23px">51.66</div>
<div class="td r" style="right:9.8px;top:371.20px;height:16.23px;line-height:16.23px">3</div>
<div class="tr" style="left:363px;top:387.43px;width:354px;height:16.23px;background:#f6f7f9"></div>
<div class="td" style="left:367.6px;top:387.43px;height:16.23px;line-height:16.23px">TMRAI</div>
<div class="td r" style="right:227.0px;top:387.43px;height:16.23px;line-height:16.23px">155.72</div>
<div class="td r" style="right:162.0px;top:387.43px;height:16.23px;line-height:16.23px">12,730</div>
<div class="td r" style="right:99.0px;top:387.43px;height:16.23px;line-height:16.23px">116.26%</div>
<div class="td r" style="right:55.0px;top:387.43px;height:16.23px;line-height:16.23px">1.05</div>
<div class="td r" style="right:9.8px;top:387.43px;height:16.23px;line-height:16.23px">148</div>
<div class="tr" style="left:363px;top:403.66px;width:354px;height:16.23px;background:#ffffff"></div>
<div class="td" style="left:367.6px;top:403.66px;height:16.23px;line-height:16.23px">MPP2</div>
<div class="td r" style="right:227.0px;top:403.66px;height:16.23px;line-height:16.23px">501.3</div>
<div class="td r" style="right:162.0px;top:403.66px;height:16.23px;line-height:16.23px">23,648</div>
<div class="td r" style="right:99.0px;top:403.66px;height:16.23px;line-height:16.23px">251.18%</div>
<div class="td r" style="right:55.0px;top:403.66px;height:16.23px;line-height:16.23px">0.84</div>
<div class="td r" style="right:9.8px;top:403.66px;height:16.23px;line-height:16.23px">594</div>
<div class="tr" style="left:363px;top:419.89px;width:354px;height:16.23px;background:#f6f7f9"></div>
<div class="td" style="left:367.6px;top:419.89px;height:16.23px;line-height:16.23px">SmartWorks</div>
<div class="td r" style="right:227.0px;top:419.89px;height:16.23px;line-height:16.23px">2,131</div>
<div class="td r" style="right:162.0px;top:419.89px;height:16.23px;line-height:16.23px">26,493</div>
<div class="td r" style="right:99.0px;top:419.89px;height:16.23px;line-height:16.23px">215.53%</div>
<div class="td r" style="right:55.0px;top:419.89px;height:16.23px;line-height:16.23px">3.73</div>
<div class="td r" style="right:9.8px;top:419.89px;height:16.23px;line-height:16.23px">571</div>
</div></div>
<svg class="abs" width="722" height="503"><path d="M196.2,362 L200.2,362 L198.2,364.5 Z" fill="#fff"/><path d="M488.3,364.6 L492.3,364.6 L490.3,362 Z" fill="#fff"/></svg>

</body></html>
